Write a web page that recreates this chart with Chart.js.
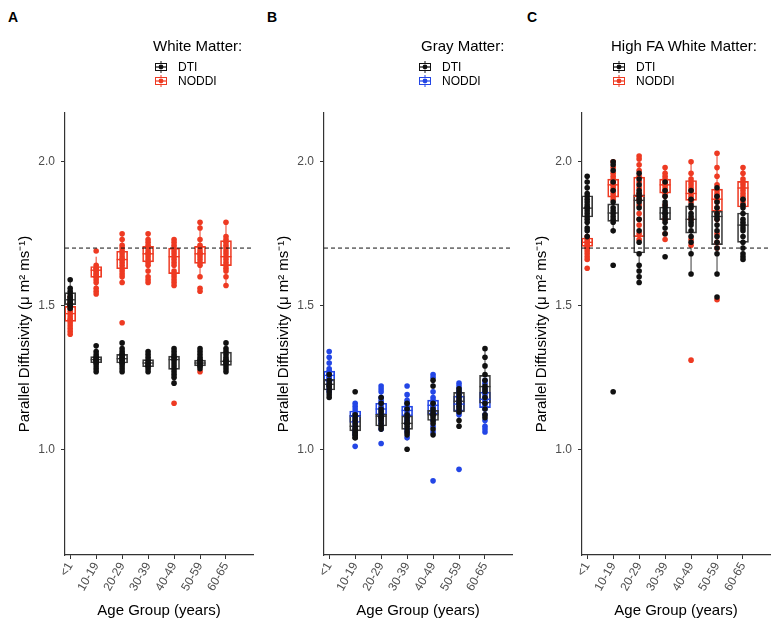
<!DOCTYPE html>
<html>
<head>
<meta charset="utf-8">
<script src="https://cdn.jsdelivr.net/npm/chart.js@4.4.1/dist/chart.umd.min.js"></script>
<style>
  body { margin: 0; background: #fff; font-family: "Liberation Sans", Arial, sans-serif; }
  #wrap { position: relative; width: 777px; height: 621px; overflow: hidden; }
  canvas.panel { position: absolute; top: 0; }
  .tag { position: absolute; top: 9px; font-weight: bold; font-size: 14px; }
  .leg { position: absolute; top: 37px; color: #000; }
  .leg .ttl { font-size: 15px; line-height: 17px; margin-bottom: 6px; }
  .leg .item { font-size: 12px; line-height: 14px; height: 14px; display: flex; align-items: center; }
  .leg svg { margin-right: 11px; margin-left: 2px; }
</style>
</head>
<body>
<div id="wrap">
  <div class="tag" style="left:8px">A</div>
  <div class="tag" style="left:267px">B</div>
  <div class="tag" style="left:527px">C</div>
  <canvas id="chartA" class="panel" width="260" height="621" style="left:0"></canvas>
  <canvas id="chartB" class="panel" width="260" height="621" style="left:259px"></canvas>
  <canvas id="chartC" class="panel" width="260" height="621" style="left:517px"></canvas>
  <div class="leg" id="legA" style="left:153px"></div>
  <div class="leg" id="legB" style="left:417px"></div>
  <div class="leg" id="legC" style="left:611px"></div>
</div>
<script>
const ageGroups = ['<1', '10-19', '20-29', '30-39', '40-49', '50-59', '60-65'];
const refLine = 1.7;

// box stats per group: [whisker low, q1, median, q3, whisker high]
// panel A - white matter
const whiteDtiPts = [
  [1.59, 1.56, 1.55, 1.54, 1.53, 1.53, 1.52, 1.52, 1.51, 1.51, 1.50, 1.50, 1.49],
  [1.36, 1.34, 1.33, 1.32, 1.32, 1.31, 1.31, 1.31, 1.30, 1.30, 1.29, 1.28, 1.27],
  [1.37, 1.35, 1.34, 1.33, 1.33, 1.32, 1.32, 1.31, 1.31, 1.30, 1.30, 1.29, 1.28, 1.27],
  [1.34, 1.33, 1.32, 1.31, 1.30, 1.30, 1.29, 1.29, 1.28, 1.27],
  [1.35, 1.34, 1.33, 1.32, 1.32, 1.31, 1.30, 1.29, 1.28, 1.27, 1.26, 1.25, 1.23],
  [1.35, 1.34, 1.33, 1.32, 1.31, 1.31, 1.30, 1.30, 1.29, 1.29, 1.28],
  [1.37, 1.35, 1.34, 1.33, 1.32, 1.31, 1.31, 1.30, 1.30, 1.29, 1.28, 1.27]
];
const whiteDtiBox = [
  [1.49, 1.503, 1.52, 1.545, 1.59],
  [1.27, 1.301, 1.312, 1.322, 1.36],
  [1.27, 1.300, 1.315, 1.330, 1.37],
  [1.27, 1.287, 1.300, 1.312, 1.34],
  [1.23, 1.278, 1.312, 1.324, 1.35],
  [1.28, 1.290, 1.300, 1.310, 1.35],
  [1.27, 1.292, 1.306, 1.338, 1.37]
];
const whiteNoddiPts = [
  [1.53, 1.51, 1.50, 1.49, 1.48, 1.47, 1.46, 1.45, 1.45, 1.44, 1.43, 1.42, 1.41, 1.40],
  [1.69, 1.64, 1.63, 1.63, 1.62, 1.62, 1.61, 1.61, 1.60, 1.60, 1.59, 1.58, 1.56, 1.55, 1.54],
  [1.75, 1.73, 1.71, 1.70, 1.69, 1.68, 1.67, 1.66, 1.66, 1.65, 1.64, 1.63, 1.62, 1.61, 1.60, 1.58, 1.44],
  [1.75, 1.73, 1.72, 1.71, 1.70, 1.69, 1.68, 1.68, 1.67, 1.66, 1.65, 1.64, 1.62, 1.60, 1.59, 1.58],
  [1.73, 1.72, 1.71, 1.70, 1.69, 1.68, 1.67, 1.66, 1.65, 1.64, 1.62, 1.61, 1.60, 1.59, 1.58, 1.57, 1.16],
  [1.79, 1.77, 1.73, 1.71, 1.70, 1.69, 1.68, 1.68, 1.67, 1.66, 1.65, 1.64, 1.60, 1.56, 1.55, 1.27],
  [1.79, 1.74, 1.73, 1.72, 1.71, 1.70, 1.69, 1.68, 1.67, 1.66, 1.65, 1.64, 1.63, 1.62, 1.60, 1.57]
];
const whiteNoddiBox = [
  [1.40, 1.445, 1.472, 1.497, 1.53],
  [1.55, 1.598, 1.623, 1.636, 1.67],
  [1.58, 1.628, 1.660, 1.689, 1.75],
  [1.58, 1.652, 1.680, 1.706, 1.75],
  [1.57, 1.611, 1.670, 1.700, 1.73],
  [1.60, 1.647, 1.680, 1.706, 1.79],
  [1.57, 1.639, 1.670, 1.726, 1.79]
];

// panel B - gray matter
const grayDtiPts = [
  [1.26, 1.24, 1.23, 1.22, 1.22, 1.21, 1.20, 1.19, 1.18],
  [1.20, 1.12, 1.11, 1.10, 1.09, 1.08, 1.07, 1.07, 1.06, 1.06, 1.05, 1.05, 1.04, 1.04],
  [1.18, 1.16, 1.14, 1.13, 1.12, 1.11, 1.11, 1.10, 1.09, 1.08, 1.07],
  [1.16, 1.14, 1.12, 1.11, 1.10, 1.09, 1.09, 1.08, 1.07, 1.06, 1.05, 1.00],
  [1.24, 1.22, 1.16, 1.14, 1.13, 1.12, 1.12, 1.11, 1.10, 1.09, 1.07, 1.05],
  [1.21, 1.20, 1.19, 1.18, 1.17, 1.16, 1.15, 1.14, 1.13, 1.10, 1.08],
  [1.35, 1.32, 1.29, 1.26, 1.24, 1.22, 1.21, 1.20, 1.18, 1.16, 1.14, 1.12, 1.11]
];
const grayDtiBox = [
  [1.18, 1.206, 1.226, 1.243, 1.26],
  [1.04, 1.064, 1.080, 1.118, 1.16],
  [1.07, 1.081, 1.115, 1.122, 1.16],
  [1.03, 1.069, 1.090, 1.116, 1.16],
  [1.07, 1.100, 1.120, 1.135, 1.16],
  [1.08, 1.130, 1.167, 1.198, 1.21],
  [1.11, 1.160, 1.218, 1.257, 1.35]
];
const grayNoddiPts = [
  [1.34, 1.32, 1.30, 1.28, 1.27, 1.27, 1.26, 1.26, 1.25, 1.25, 1.24, 1.24, 1.23, 1.22, 1.21, 1.20],
  [1.16, 1.15, 1.14, 1.13, 1.12, 1.12, 1.11, 1.10, 1.10, 1.09, 1.08, 1.07, 1.06, 1.05, 1.01],
  [1.22, 1.21, 1.20, 1.18, 1.17, 1.16, 1.15, 1.14, 1.14, 1.13, 1.12, 1.11, 1.10, 1.09, 1.07, 1.02],
  [1.22, 1.19, 1.17, 1.16, 1.15, 1.14, 1.14, 1.13, 1.12, 1.11, 1.10, 1.09, 1.07, 1.06, 1.04],
  [1.26, 1.25, 1.20, 1.18, 1.17, 1.16, 1.15, 1.15, 1.14, 1.13, 1.12, 1.10, 1.08, 1.06, 0.89],
  [1.23, 1.22, 1.21, 1.20, 1.19, 1.18, 1.17, 1.16, 1.16, 1.15, 1.14, 1.13, 1.12, 0.93],
  [1.24, 1.23, 1.21, 1.20, 1.19, 1.18, 1.17, 1.16, 1.15, 1.14, 1.12, 1.10, 1.08, 1.07, 1.06]
];
const grayNoddiBox = [
  [1.20, 1.237, 1.257, 1.272, 1.32],
  [1.05, 1.093, 1.115, 1.133, 1.16],
  [1.07, 1.120, 1.140, 1.160, 1.22],
  [1.07, 1.116, 1.135, 1.150, 1.19],
  [1.06, 1.122, 1.153, 1.171, 1.25],
  [1.12, 1.133, 1.157, 1.185, 1.23],
  [1.06, 1.145, 1.174, 1.199, 1.24]
];

// panel C - high FA white matter
const hfaDtiPts = [
  [1.95, 1.93, 1.91, 1.89, 1.88, 1.87, 1.86, 1.85, 1.84, 1.84, 1.83, 1.82, 1.81, 1.80, 1.79, 1.77, 1.76, 1.74],
  [2.00, 1.99, 1.97, 1.93, 1.90, 1.86, 1.84, 1.83, 1.82, 1.81, 1.80, 1.79, 1.76, 1.64, 1.20],
  [1.96, 1.94, 1.92, 1.90, 1.89, 1.88, 1.87, 1.86, 1.84, 1.80, 1.76, 1.72, 1.68, 1.64, 1.62, 1.60, 1.58],
  [1.93, 1.90, 1.88, 1.86, 1.85, 1.84, 1.83, 1.82, 1.82, 1.81, 1.80, 1.79, 1.77, 1.75, 1.67],
  [1.90, 1.87, 1.85, 1.84, 1.82, 1.81, 1.80, 1.79, 1.78, 1.76, 1.74, 1.72, 1.68, 1.61],
  [1.91, 1.88, 1.86, 1.84, 1.82, 1.81, 1.80, 1.78, 1.76, 1.74, 1.72, 1.70, 1.68, 1.61, 1.53],
  [1.87, 1.85, 1.84, 1.82, 1.80, 1.79, 1.78, 1.77, 1.76, 1.74, 1.72, 1.70, 1.68, 1.67, 1.66]
];
const hfaDtiBox = [
  [1.74, 1.808, 1.839, 1.882, 1.95],
  [1.76, 1.793, 1.822, 1.854, 1.93],
  [1.58, 1.683, 1.866, 1.885, 1.96],
  [1.75, 1.799, 1.822, 1.843, 1.90],
  [1.61, 1.752, 1.800, 1.847, 1.90],
  [1.61, 1.712, 1.810, 1.828, 1.91],
  [1.66, 1.720, 1.780, 1.822, 1.87]
];
const hfaNoddiPts = [
  [1.74, 1.73, 1.72, 1.72, 1.71, 1.71, 1.70, 1.70, 1.69, 1.68, 1.67, 1.66, 1.63],
  [2.00, 1.98, 1.96, 1.95, 1.94, 1.93, 1.92, 1.92, 1.91, 1.90, 1.89, 1.88, 1.87],
  [2.02, 2.01, 1.99, 1.97, 1.95, 1.93, 1.91, 1.89, 1.87, 1.85, 1.82, 1.80, 1.78, 1.75, 1.73],
  [1.98, 1.96, 1.95, 1.94, 1.93, 1.92, 1.92, 1.91, 1.90, 1.89, 1.88, 1.85, 1.80, 1.75, 1.73],
  [2.00, 1.96, 1.94, 1.93, 1.92, 1.91, 1.90, 1.89, 1.88, 1.87, 1.86, 1.80, 1.73, 1.71, 1.31],
  [2.03, 1.98, 1.95, 1.92, 1.90, 1.89, 1.88, 1.87, 1.86, 1.84, 1.82, 1.80, 1.75, 1.72, 1.70, 1.52],
  [1.98, 1.96, 1.94, 1.93, 1.92, 1.91, 1.90, 1.89, 1.88, 1.87, 1.86, 1.85]
];
const hfaNoddiBox = [
  [1.66, 1.706, 1.720, 1.735, 1.74],
  [1.87, 1.877, 1.920, 1.940, 2.00],
  [1.73, 1.740, 1.880, 1.947, 2.02],
  [1.85, 1.891, 1.920, 1.940, 1.98],
  [1.80, 1.866, 1.890, 1.935, 2.00],
  [1.72, 1.828, 1.870, 1.905, 2.03],
  [1.84, 1.843, 1.909, 1.932, 1.98]
];

const X_MIN = -0.2, X_MAX = 7.04;
const Y_MIN = 0.632, Y_MAX = 2.17;
const DTI_COLOR = '#111111';
const DTI_BOX = '#3a3a3a';
const RED = '#ee3a22';
const BLUE = '#2346e6';

function pointData(groups) {
  return groups.flatMap((vals, i) => vals.map(v => ({ x: i, y: v })));
}
function boxData(boxes) {
  return boxes.map((b, i) => ({ x: i, y: [b[1], b[3]] }));
}
function medianData(boxes) {
  return boxes.map((b, i) => ({ x: i, y: b[2] }));
}
function whiskerData(boxes) {
  const out = [];
  boxes.forEach((b, i) => {
    out.push({ x: i, y: b[0] }, { x: i, y: b[1] }, { x: i, y: null });
    out.push({ x: i, y: b[3] }, { x: i, y: b[4] }, { x: i, y: null });
  });
  return out;
}

function makePanel(id, dtiPts, dtiBox, noddiPts, noddiBox, noddiColor) {
  const boxSet = (boxes, color) => ({
    type: 'bar', data: boxData(boxes), backgroundColor: 'rgba(0,0,0,0)',
    borderColor: color, borderWidth: 1, borderSkipped: false, barThickness: 11, grouped: false
  });
  const medSet = (boxes, color) => ({
    type: 'scatter', data: medianData(boxes), pointStyle: 'line', pointRadius: 5.5,
    borderColor: color, pointBorderWidth: 1.4
  });
  const whiskSet = (boxes, color) => ({
    type: 'line', data: whiskerData(boxes), borderColor: color, borderWidth: 1,
    pointRadius: 0, spanGaps: false
  });
  const ptSet = (groups, color) => ({
    type: 'scatter', data: pointData(groups), backgroundColor: color,
    borderWidth: 0, pointRadius: 2.8
  });

  return new Chart(document.getElementById(id), {
    type: 'bar',
    data: {
      datasets: [
        { type: 'line', data: [{ x: X_MIN, y: refLine }, { x: X_MAX, y: refLine }],
          borderColor: '#111', borderWidth: 1, borderDash: [4, 3], pointRadius: 0 },
        ptSet(dtiPts, DTI_COLOR),
        ptSet(noddiPts, noddiColor),
        medSet(dtiBox, DTI_BOX),
        medSet(noddiBox, noddiColor),
        boxSet(dtiBox, DTI_BOX),
        boxSet(noddiBox, noddiColor),
        whiskSet(dtiBox, DTI_BOX),
        whiskSet(noddiBox, noddiColor)
      ]
    },
    options: {
      responsive: false,
      animation: false,
      events: [],
      layout: { padding: { top: 113, right: 7, left: 0, bottom: 0 } },
      plugins: { legend: { display: false }, tooltip: { enabled: false } },
      scales: {
        x: {
          type: 'linear', min: X_MIN, max: X_MAX, offset: false,
          afterBuildTicks: s => { s.ticks = ageGroups.map((_, i) => ({ value: i })); },
          afterFit: s => { s.height = 66; },
          ticks: {
            autoSkip: false, minRotation: 60, maxRotation: 60, padding: 1,
            color: '#4d4d4d', font: { size: 12, family: 'Liberation Sans' },
            callback: v => ageGroups[v]
          },
          grid: { drawOnChartArea: false, drawTicks: true, tickLength: 4, color: '#333', offset: false },
          border: { display: true, color: '#333', width: 1.2 },
          title: { display: true, text: 'Age Group (years)', color: '#000',
                   font: { size: 15, family: 'Liberation Sans' }, padding: { top: 0, bottom: 1 } }
        },
        y: {
          type: 'linear', min: Y_MIN, max: Y_MAX,
          afterBuildTicks: s => { s.ticks = [1.0, 1.5, 2.0].map(v => ({ value: v })); },
          afterFit: s => { s.width = 65; },
          ticks: {
            padding: 6, color: '#4d4d4d', font: { size: 12, family: 'Liberation Sans' },
            callback: v => v.toFixed(1)
          },
          grid: { drawOnChartArea: false, drawTicks: true, tickLength: 4, color: '#333' },
          border: { display: true, color: '#333', width: 1.2 },
          title: { display: true, text: 'Parallel Diffusivity (\u03bc m\u00b2 ms\u207b\u00b9)', color: '#000',
                   font: { size: 15, family: 'Liberation Sans' }, padding: { top: 16, bottom: 0 } }
        }
      }
    }
  });
}

function legendIcon(color) {
  return `<svg width="12" height="12" viewBox="0 0 12 12">
    <line x1="6" y1="0" x2="6" y2="12" stroke="${color}" stroke-width="1"/>
    <rect x="0.5" y="2.5" width="11" height="7" fill="#fff" stroke="${color}" stroke-width="1"/>
    <line x1="0.5" y1="6" x2="11.5" y2="6" stroke="${color}" stroke-width="1.2"/>
    <circle cx="6" cy="6" r="2.4" fill="${color}"/></svg>`;
}
function buildLegend(id, title, noddiColor, titleShift) {
  document.getElementById(id).innerHTML =
    `<div class="ttl" style="margin-left:${titleShift}px">${title}</div>
     <div class="item">${legendIcon(DTI_COLOR)}DTI</div>
     <div class="item">${legendIcon(noddiColor)}NODDI</div>`;
}

buildLegend('legA', 'White Matter:', RED, 0);
buildLegend('legB', 'Gray Matter:', BLUE, 4);
buildLegend('legC', 'High FA White Matter:', RED, 0);

makePanel('chartA', whiteDtiPts, whiteDtiBox, whiteNoddiPts, whiteNoddiBox, RED);
makePanel('chartB', grayDtiPts, grayDtiBox, grayNoddiPts, grayNoddiBox, BLUE);
makePanel('chartC', hfaDtiPts, hfaDtiBox, hfaNoddiPts, hfaNoddiBox, RED);
</script>
</body>
</html>
